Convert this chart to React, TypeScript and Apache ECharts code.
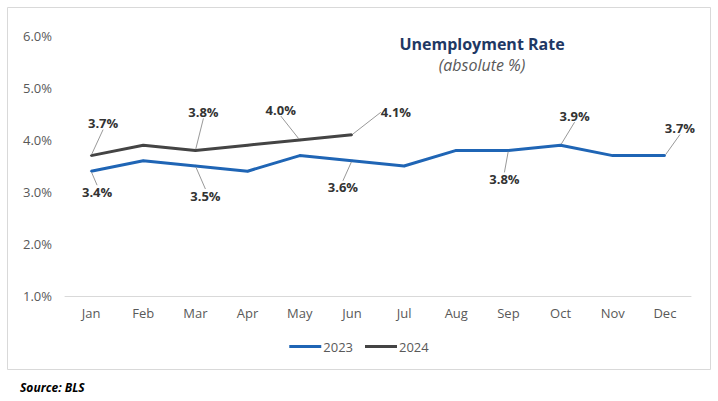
import React, { useEffect, useRef } from "react";
import * as echarts from "echarts";

const months = ["Jan", "Feb", "Mar", "Apr", "May", "Jun", "Jul", "Aug", "Sep", "Oct", "Nov", "Dec"];
const rate2023 = [3.4, 3.6, 3.5, 3.4, 3.7, 3.6, 3.5, 3.8, 3.8, 3.9, 3.7, 3.7];
const rate2024 = [3.7, 3.9, 3.8, 3.9, 4.0, 4.1];
const yTicks = [1, 2, 3, 4, 5, 6];

// label placement: [dataIndex, position, dx, dy]
const labels2023: [number, string, number, number][] = [
  [0, "bottom", 6, 8],
  [2, "bottom", 10, 17],
  [5, "bottom", -9, 14],
  [8, "bottom", -4, 16],
  [9, "top", 14, -17],
  [11, "top", 15, -15],
];
const labels2024: [number, string, number, number][] = [
  [0, "top", 12, -20],
  [2, "top", 8, -26],
  [4, "top", -19, -18],
  [5, "top", 44, -10],
];

const FONT = "'Open Sans', 'Noto Sans', sans-serif";

function buildData(values: number[], lbls: [number, string, number, number][]) {
  return values.map((v, i) => {
    const l = lbls.find((x) => x[0] === i);
    if (!l) return { value: v, label: { show: false } };
    return {
      value: v,
      label: {
        show: true,
        position: l[1],
        formatter: (p: any) => p.value.toFixed(1) + "%",
      },
    };
  });
}

function layoutFor(lbls: [number, string, number, number][]) {
  return (params: any) => {
    const l = lbls.find((x) => x[0] === params.dataIndex);
    if (!l) return {};
    return { dx: l[2], dy: l[3] };
  };
}

export default function App() {
  const ref = useRef<HTMLDivElement>(null);
  useEffect(() => {
    if (!ref.current) return;
    const chart = echarts.init(ref.current, undefined, { renderer: "svg" });
    const labelStyle = {
      fontFamily: FONT,
      fontWeight: "bold" as const,
      fontSize: 13,
      color: "#333333",
    };
    const labelLine = { show: true, lineStyle: { color: "#999999", width: 1 } };
    chart.setOption({
      animation: false,
      backgroundColor: "#ffffff",
      textStyle: { fontFamily: FONT },
      title: {
        text: "Unemployment Rate",
        subtext: "(absolute %)",
        left: 477,
        top: 30,
        textAlign: "center",
        itemGap: 3,
        textStyle: { fontFamily: FONT, fontSize: 16, fontWeight: "bold", color: "#1F3864", lineHeight: 18 },
        subtextStyle: { fontFamily: FONT, fontSize: 16, fontStyle: "italic", color: "#595959", lineHeight: 18 },
      },
      legend: {
        bottom: 43,
        left: "center",
        icon: "rect",
        itemWidth: 32,
        itemHeight: 3,
        itemGap: 12,
        textStyle: { fontFamily: FONT, fontSize: 13, color: "#595959", padding: [0, 0, 0, -3] },
        data: ["2023", "2024"],
      },
      grid: { left: 65, right: 27, top: 36, bottom: 105 },
      xAxis: {
        type: "category",
        data: months,
        boundaryGap: true,
        axisLine: { lineStyle: { color: "#d9d9d9" } },
        axisTick: { show: false },
        axisLabel: { color: "#595959", fontSize: 13, margin: 10, fontFamily: FONT },
      },
      yAxis: {
        type: "value",
        min: yTicks[0],
        max: yTicks[yTicks.length - 1],
        interval: 1,
        splitLine: { show: false },
        axisLine: { show: false },
        axisTick: { show: false },
        axisLabel: {
          color: "#595959",
          fontSize: 13,
          margin: 13,
          fontFamily: FONT,
          formatter: (v: number) => v.toFixed(1) + "%",
        },
      },
      series: [
        {
          name: "2023",
          type: "line",
          data: buildData(rate2023, labels2023),
          symbol: "circle",
          symbolSize: 2,
          lineStyle: { color: "#1F65B5", width: 3 },
          itemStyle: { color: "#1F65B5" },
          label: labelStyle,
          labelLine,
          labelLayout: layoutFor(labels2023),
          z: 2,
        },
        {
          name: "2024",
          type: "line",
          data: buildData(rate2024, labels2024),
          symbol: "circle",
          symbolSize: 2,
          lineStyle: { color: "#444444", width: 3 },
          itemStyle: { color: "#444444" },
          label: labelStyle,
          labelLine,
          labelLayout: layoutFor(labels2024),
          z: 3,
        },
      ],
      graphic: [
        {
          type: "rect",
          shape: { x: 7.5, y: 7.5, width: 703, height: 362 },
          style: { fill: "none", stroke: "#d9d9d9", lineWidth: 1 },
          silent: true,
        },
        {
          type: "text",
          left: 20,
          top: 381,
          style: {
            text: "Source: BLS",
            fontFamily: FONT,
            fontSize: 12,
            fontWeight: "bold",
            fontStyle: "italic",
            fill: "#000000",
          },
        },
      ],
    });
    return () => chart.dispose();
  }, []);
  return (
    <div
      ref={ref}
      style={{ position: "fixed", left: 0, top: 0, width: 718, height: 401 }}
    />
  );
}
